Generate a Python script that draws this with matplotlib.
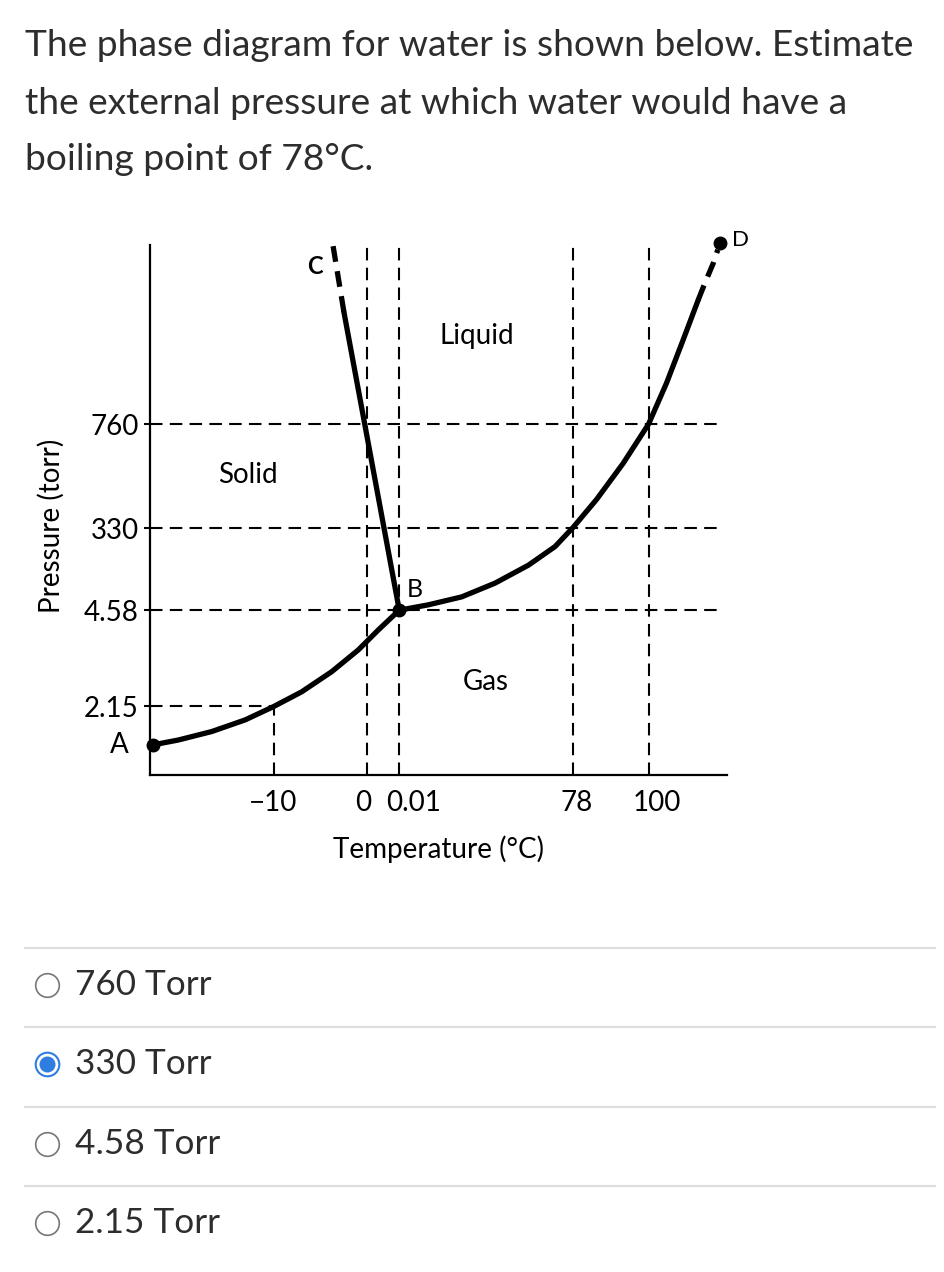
import matplotlib.pyplot as plt

plt.rcParams['font.family'] = ['Lato', 'DejaVu Sans']

# ----- question text ----- #
question_lines = ["The phase diagram for water is shown below. Estimate",
                  "the external pressure at which water would have a",
                  "boiling point of 78\u00b0C."]
options = ["760 Torr", "330 Torr", "4.58 Torr", "2.15 Torr"]
selected = 1

# ----- schematic diagram (arbitrary units, 0-100 on both axes) ----- #
# positions of the guide lines
t_lines = [21.5, 37.6, 43.2, 73.3, 86.5]
t_labels = ["\u221210", "0", "0.01", "78", "100"]
t_label_pos = [21.3, 37.0, 45.6, 74.0, 87.8]
p_lines = [66.2, 46.6, 31.1, 13.0]
p_labels = ["760", "330", "4.58", "2.15"]

# sublimation curve A -> B
subl_t = [0.6, 4.9, 10.7, 16.5, 21.4, 26.3, 31.5, 36.1, 39.6, 43.2]
subl_p = [5.7, 6.6, 8.2, 10.4, 12.9, 15.7, 19.5, 23.6, 27.4, 31.1]
# vaporization curve B -> D (solid part)
vap_t = [43.2, 48.2, 54.0, 59.8, 65.6, 70.2, 73.4, 77.4, 82.0, 86.4, 89.5, 92.4, 95.0]
vap_p = [31.1, 32.1, 33.6, 36.2, 39.6, 43.1, 46.8, 52.0, 58.8, 66.2, 73.9, 82.1, 89.6]
# vaporization curve, dashed end up to D
vap_dash_t = [95.0, 96.2, 97.6, 98.4]
vap_dash_p = [89.6, 92.9, 96.5, 99.1]
# fusion line B -> C
fus_t = [43.2, 33.6]
fus_p = [31.1, 87.4]
fus_dash_t = [33.6, 31.7]
fus_dash_p = [87.4, 100.0]

point_A = (0.6, 5.7)
point_B = (43.2, 31.1)
point_D = (98.8, 100.4)

W, H = 944, 1272
fig = plt.figure(figsize=(W / 100, H / 100), dpi=100)
fig.patch.set_facecolor('white')

text_color = '#2d2d2d'
for i, line in enumerate(question_lines):
    fig.text(25 / W, 1 - (46 + i * 57) / H, line, fontsize=26.7,
             color=text_color, va='center', ha='left')

# ----- phase diagram axes ----- #
ax_left, ax_right, ax_top, ax_bot = 150, 727, 245, 775
ax = fig.add_axes([ax_left / W, 1 - ax_bot / H, (ax_right - ax_left) / W, (ax_bot - ax_top) / H])
ax.set_xlim(0, 100)
ax.set_ylim(0, 100)
for s in ['top', 'right']:
    ax.spines[s].set_visible(False)
for s in ['left', 'bottom']:
    ax.spines[s].set_linewidth(1.6)

dash = (0, (6, 3.5))
gkw = dict(color='black', lw=1.5, linestyle=dash)
# horizontal guide lines
for p in p_lines[:3]:
    ax.plot([0, 98.8], [p, p], **gkw)
ax.plot([0, t_lines[0]], [p_lines[3], p_lines[3]], **gkw)
# vertical guide lines
ax.plot([t_lines[0], t_lines[0]], [0, p_lines[3]], **gkw)
for t in t_lines[1:]:
    ax.plot([t, t], [0, 100], **gkw)

# phase boundaries
ckw = dict(color='black', lw=3.8, solid_capstyle='round', solid_joinstyle='round')
ax.plot(subl_t, subl_p, **ckw)
ax.plot(vap_t, vap_p, **ckw)
ax.plot(fus_t, fus_p, **ckw)
dkw = dict(color='black', lw=3.8, linestyle=(0, (3, 1.8)), clip_on=False)
ax.plot(vap_dash_t, vap_dash_p, **dkw)
ax.plot(fus_dash_t, fus_dash_p, **dkw)

for pt in [point_A, point_B, point_D]:
    ax.plot(*pt, 'o', color='black', ms=9, clip_on=False, zorder=5)

lab = dict(fontsize=20, color='black')
ax.text(point_A[0] - 4.3, point_A[1], "A", ha='right', va='center', **lab)
ax.text(point_B[0] + 1.3, point_B[1] + 1.8, "B", ha='left', va='bottom', fontsize=18)
ax.text(point_D[0] + 2.0, point_D[1] + 0.5, "D", ha='left', va='center', fontsize=16)
ax.text(28.6, 96.0, "C", ha='center', va='center', fontsize=17, fontweight='bold')
ax.text(17.0, 56.6, "Solid", ha='center', va='center', **lab)
ax.text(56.7, 82.8, "Liquid", ha='center', va='center', **lab)
ax.text(58.2, 17.6, "Gas", ha='center', va='center', **lab)

ax.set_yticks(p_lines)
ax.set_yticklabels(p_labels, fontsize=20)
ax.tick_params(axis='y', length=4, width=1.5, pad=4)
ax.set_xticks(t_label_pos)
ax.set_xticklabels(t_labels, fontsize=20)
ax.tick_params(axis='x', length=0, pad=11)
ax.set_xlabel("Temperature (\u00b0C)", fontsize=20, labelpad=14)
ax.set_ylabel("Pressure (torr)", fontsize=20)
ax.yaxis.set_label_coords(-0.148, 0.47)

# ----- answer options ----- #
ui = fig.add_axes([0, 0, 1, 1])
ui.set_xlim(0, W)
ui.set_ylim(H, 0)
ui.axis('off')
first_sep, step = 948, 79.3
for i, opt in enumerate(options):
    sep_y = first_sep + i * step
    ui.plot([25, 935], [sep_y, sep_y], color='#dddddd', lw=1.6)
    cy = sep_y + 37
    if i == selected:
        ui.plot(47, cy, 'o', ms=17, mfc='white', mec='#2f7de1', mew=1.5)
        ui.plot(47, cy, 'o', ms=10.5, color='#2f7de1')
    else:
        ui.plot(47, cy, 'o', ms=17, mfc='white', mec='#777777', mew=1.2)
    ui.text(75, cy, opt, fontsize=25.3, color=text_color, va='center', ha='left')

fig.savefig('out.png', dpi=100)
